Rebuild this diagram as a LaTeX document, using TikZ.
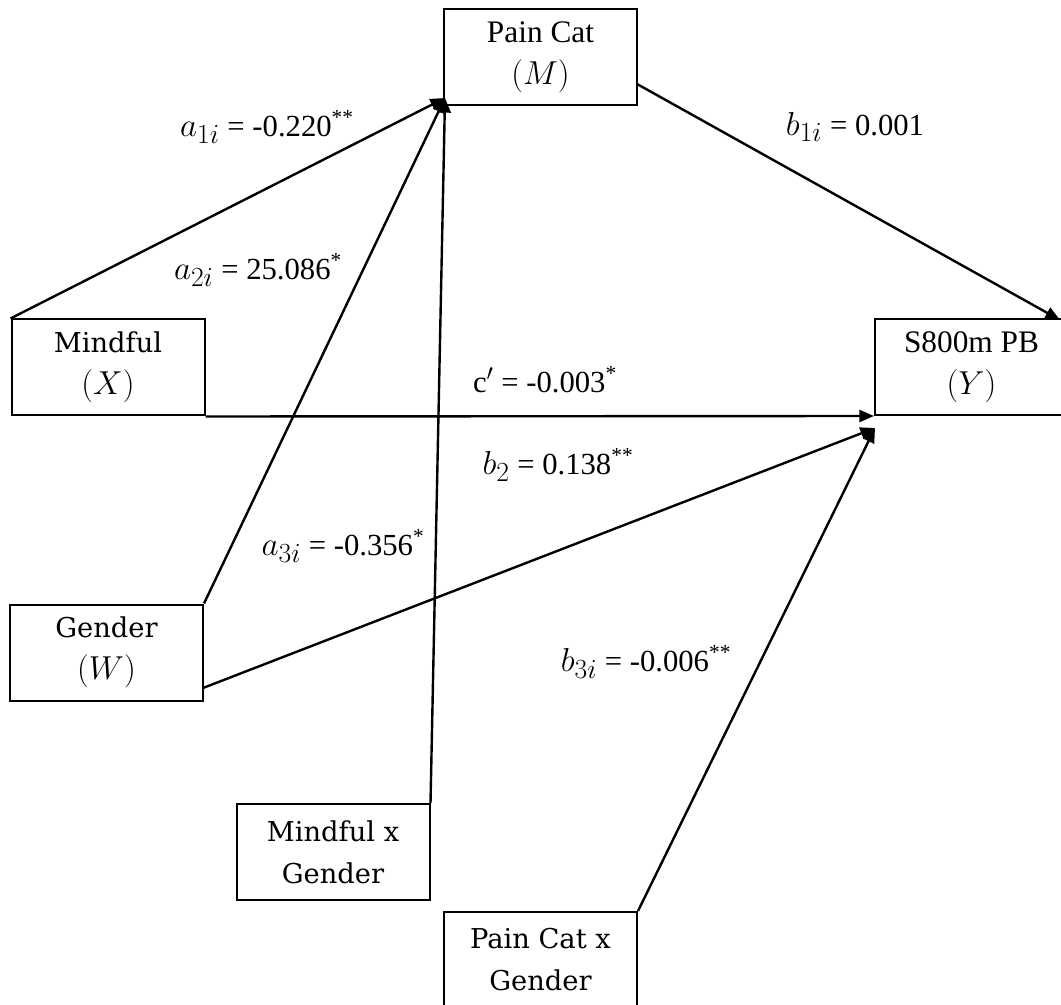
\documentclass[tikz,border=0pt]{standalone}
\usepackage{fontspec}
\setmainfont{Liberation Serif}
\newfontfamily\cambriafont{DejaVu Serif}
\usetikzlibrary{arrows.meta}

\newcommand{\mvar}[1]{{\fontsize{24}{31}\selectfont$(#1)$}}
\newcommand{\coef}[2]{{\fontsize{28}{28}\selectfont$#1_{#2}$}}

\tikzset{
    var/.style={draw,line width=1.5pt,minimum width=144.75pt,minimum height=72pt,
        align=center,inner sep=0pt,font=\fontsize{23.5}{31.5}\selectfont},
    cambria/.style={font=\cambriafont\fontsize{20.5}{31.5}\selectfont},
    path/.style={line width=1.8pt,-{Triangle[length=11pt,width=9pt]}},
    lbl/.style={font=\fontsize{23}{27}\selectfont,inner sep=0pt}
}

\begin{document}
\begin{tikzpicture}[x=0.75pt,y=-0.75pt]
    \useasboundingbox (0,0) rectangle (1061,1005);
    % variables
    \node[var] (pain) at (540.5,57) {Pain Cat\\\mvar{M}};
    \node[var,cambria] (mindful) at (108,367.5) {Mindful\\\mvar{X}};
    \node[var] (pb) at (971.5,367) {S800m PB\\\mvar{Y}};
    \node[var,cambria] (gender) at (106.5,652.5) {Gender\\\mvar{W}};
    \node[var,cambria] (mxg) at (333,852) {Mindful x\\Gender};
    \node[var,cambria] (pxg) at (540.5,960) {Pain Cat x\\Gender};
    % arrow ends
    \coordinate (intoM) at (445,98);
    \coordinate (intoY) at (875,428);
    \coordinate (cornerY) at (1060,320);
    \coordinate (outM) at (637,84);
    \coordinate (outW) at (203,688);
    % paths
    \draw[path] (mindful.north west) -- (intoM);
    \draw[path] (gender.north east) -- (intoM);
    \draw[path] (mxg.north east) -- (intoM);
    \draw[path] (outM) -- (cornerY);
    \draw[path] (mindful.south east) -- (pb.south west);
    \draw[path] (outW) -- (intoY);
    \draw[path] (pxg.north east) -- (intoY);
    % coefficients
    \node[lbl] (a1) at (267,127) {\coef{a}{1i} = -0.220\textsuperscript{**}};
    \node[lbl] (a2) at (258,270) {\coef{a}{2i} = 25.086\textsuperscript{*}};
    \node[lbl] (b1) at (855,127) {\coef{b}{1i} = 0.001};
    \node[lbl] (cp) at (545,380) {c$'$ = -0.003\textsuperscript{*}};
    \node[lbl] (b2) at (558,465) {\coef{b}{2} = 0.138\textsuperscript{**}};
    \node[lbl] (a3) at (343,546) {\coef{a}{3i} = -0.356\textsuperscript{*}};
    \node[lbl] (b3) at (646,662) {\coef{b}{3i} = -0.006\textsuperscript{**}};
\end{tikzpicture}
\end{document}
